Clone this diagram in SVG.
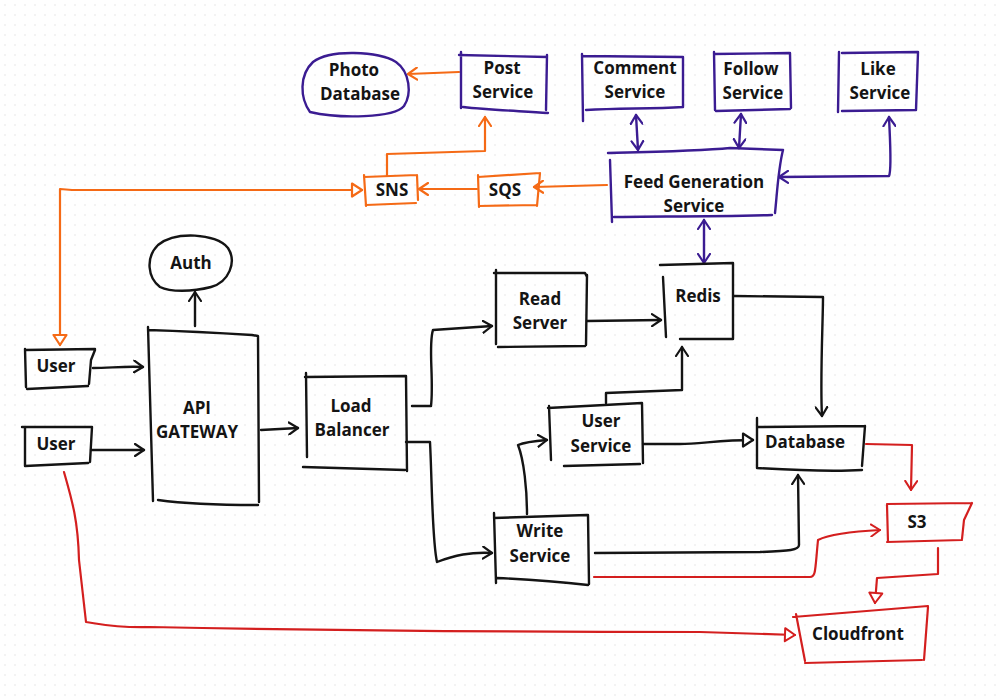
<svg xmlns="http://www.w3.org/2000/svg" width="1000" height="698" viewBox="0 0 1000 698">
<style>
.t{font-family:"Open Sans","Liberation Sans",sans-serif;font-weight:700;font-size:17px;fill:#141414;text-anchor:middle}
.b{fill:none;stroke:#141414;stroke-width:2.4;stroke-linecap:round;stroke-linejoin:round}
.p{fill:none;stroke:#3b1c92;stroke-width:2.4;stroke-linecap:round;stroke-linejoin:round}
.o{fill:none;stroke:#f56a16;stroke-width:2.2;stroke-linecap:round;stroke-linejoin:round}
.r{fill:none;stroke:#d41f1f;stroke-width:2.2;stroke-linecap:round;stroke-linejoin:round}
</style>
<defs>
<pattern id="grid" width="10" height="10" patternUnits="userSpaceOnUse"><circle cx="5" cy="5" r="0.8" fill="#e3e3e3"/></pattern>
<marker id="cb" viewBox="0 0 12 14" refX="10" refY="7" markerWidth="12" markerHeight="14" markerUnits="userSpaceOnUse" orient="auto-start-reverse"><path d="M1,1 L10,7 L1,13" fill="none" stroke="#141414" stroke-width="2.2" stroke-linecap="round" stroke-linejoin="round"/></marker>
<marker id="tb" viewBox="0 0 14 16" refX="12" refY="8" markerWidth="14" markerHeight="16" markerUnits="userSpaceOnUse" orient="auto-start-reverse"><path d="M2,1.5 L12,8 L2,14.5 Z" fill="#fff" stroke="#141414" stroke-width="2.2" stroke-linejoin="round"/></marker>
<marker id="cp" viewBox="0 0 12 14" refX="10" refY="7" markerWidth="12" markerHeight="14" markerUnits="userSpaceOnUse" orient="auto-start-reverse"><path d="M1,1 L10,7 L1,13" fill="none" stroke="#3b1c92" stroke-width="2.2" stroke-linecap="round" stroke-linejoin="round"/></marker>
<marker id="co" viewBox="0 0 12 14" refX="10" refY="7" markerWidth="12" markerHeight="14" markerUnits="userSpaceOnUse" orient="auto-start-reverse"><path d="M1,1 L10,7 L1,13" fill="none" stroke="#f56a16" stroke-width="2.2" stroke-linecap="round" stroke-linejoin="round"/></marker>
<marker id="to" viewBox="0 0 14 16" refX="12" refY="8" markerWidth="14" markerHeight="16" markerUnits="userSpaceOnUse" orient="auto-start-reverse"><path d="M2,1.5 L12,8 L2,14.5 Z" fill="#fff" stroke="#f56a16" stroke-width="2.2" stroke-linejoin="round"/></marker>
<marker id="cr" viewBox="0 0 12 14" refX="10" refY="7" markerWidth="12" markerHeight="14" markerUnits="userSpaceOnUse" orient="auto-start-reverse"><path d="M1,1 L10,7 L1,13" fill="none" stroke="#d41f1f" stroke-width="2" stroke-linecap="round" stroke-linejoin="round"/></marker>
<marker id="tr" viewBox="0 0 14 16" refX="12" refY="8" markerWidth="14" markerHeight="16" markerUnits="userSpaceOnUse" orient="auto-start-reverse"><path d="M2,1.5 L12,8 L2,14.5 Z" fill="#fff" stroke="#d41f1f" stroke-width="2" stroke-linejoin="round"/></marker>
</defs>
<rect width="1000" height="698" fill="#fff"/>
<rect width="1000" height="698" fill="url(#grid)"/>

<g id="connectors">
<path class="p" d="M636,115 L638,150" marker-start="url(#cp)" marker-end="url(#cp)"/>
<path class="p" d="M741,114 L739,148" marker-start="url(#cp)" marker-end="url(#cp)"/>
<path class="p" d="M889,117 C890,140 892,170 889,176 L779,177" marker-start="url(#cp)" marker-end="url(#cp)"/>
<path class="p" d="M704,220 L704,263" marker-start="url(#cp)" marker-end="url(#cp)"/>
<path class="o" d="M607,185 L534,187" marker-end="url(#co)"/>
<path class="o" d="M477,189 L419,189" marker-end="url(#co)"/>
<path class="o" d="M387,176 L387,154 L485,151 L485,117" marker-end="url(#co)"/>
<path class="o" d="M459,72 L408,74" marker-end="url(#co)"/>
<path class="o" d="M362,190 L72,190 L60,189 L60,345" marker-start="url(#to)" marker-end="url(#to)"/>
<path class="b" d="M93,368 C110,368 125,366 143,367" marker-end="url(#cb)"/>
<path class="b" d="M91,450 L144,450" marker-end="url(#cb)"/>
<path class="b" d="M195,326 L195,292" marker-end="url(#cb)"/>
<path class="b" d="M261,430 L298,428" marker-end="url(#cb)"/>
<path class="b" d="M412,406 L431,406 C434,380 428,345 433,330 C460,328 480,327 492,326" marker-end="url(#cb)"/>
<path class="b" d="M406,442 L430,442 C432,480 432,540 437,562 C455,555 470,552 492,553" marker-end="url(#cb)"/>
<path class="b" d="M587,321 L661,320" marker-end="url(#cb)"/>
<path class="b" d="M527,514 C527,490 524,460 518,445 C525,442 535,441 547,440" marker-end="url(#cb)"/>
<path class="b" d="M606,403 L606,393 L682,390 L682,347" marker-end="url(#cb)"/>
<path class="b" d="M643,444 L680,444 C700,444 720,440 753,440" marker-end="url(#tb)"/>
<path class="b" d="M734,296 L823,297 C823,320 820,380 822,416" marker-end="url(#cb)"/>
<path class="b" d="M595,553 L760,552 C790,551 799,550 799,545 L798,475" marker-end="url(#cb)"/>
<path class="r" d="M866,444 L912,445 L911,490" marker-end="url(#cr)"/>
<path class="r" d="M594,577 L810,577 C816,577 815,570 818,540 C830,534 860,531 880,530" marker-end="url(#cr)"/>
<path class="r" d="M938,548 L938,574 L877,578 L875,603" marker-end="url(#tr)"/>
<path class="r" d="M64,472 C72,500 78,520 79,560 L86,622 C100,624 115,628 150,627 C300,630 500,632 700,632 L795,635" marker-end="url(#tr)"/>
</g>

<g id="photo-database">
<path class="p" d="M310,112 C300,98 299,75 313,62 C330,49 378,51 396,62 C410,72 412,94 404,106 C394,118 340,119 310,112 Z"/>
<text class="t" x="354" y="76">Photo</text><text class="t" x="360" y="100">Database</text>
</g>
<g id="post-service">
<path class="p" d="M461,52 L461,108 M459,55 L547,57 M547,55 L546,110 M463,107 C490,110 520,111 548,113"/>
<text class="t" x="502" y="74">Post</text><text class="t" x="503" y="98">Service</text>
</g>
<g id="comment-service">
<path class="p" d="M582,56 L683,57 L683,107 M582,54 L583,121 M586,110 C620,108 650,109 683,107"/>
<text class="t" x="635" y="74">Comment</text><text class="t" x="635" y="98">Service</text>
</g>
<g id="follow-service">
<path class="p" d="M714,52 L715,110 M714,54 L789,53 M790,53 L791,108 M716,111 L790,109"/>
<text class="t" x="751" y="75">Follow</text><text class="t" x="753" y="99">Service</text>
</g>
<g id="like-service">
<path class="p" d="M839,52 L838,112 M842,53 L918,52 L916,110 M842,111 L916,110"/>
<text class="t" x="878" y="75">Like</text><text class="t" x="880" y="99">Service</text>
</g>
<g id="feed-generation-service">
<path class="p" d="M608,153 C650,152 700,151 730,148 L783,150 M783,150 C778,170 777,195 775,213 M614,217 C650,216 700,217 772,215 M610,160 L612,222"/>
<text class="t" x="694" y="188">Feed Generation</text><text class="t" x="694" y="212">Service</text>
</g>
<g id="sqs">
<path class="o" d="M478,175 L479,207 M478,177 L540,173 M540,173 L537,206 M479,206 L537,205"/>
<text class="t" x="505" y="196">SQS</text>
</g>
<g id="sns">
<path class="o" d="M364,175 L366,206 M364,177 L417,175 M417,175 L418,200 M366,205 L416,203"/>
<text class="t" x="392" y="196">SNS</text>
</g>
<g id="auth">
<path class="b" d="M160,287 C148,278 145,258 158,245 C175,231 216,233 228,248 C237,262 229,282 211,287 C192,292 170,292 160,287 Z"/>
<text class="t" x="191" y="269">Auth</text>
</g>
<g id="api-gateway">
<path class="b" d="M148,327 L153,501 M148,330 C180,331 220,333 252,335 L258,336 L259,502 M158,500 C180,503 220,505 258,505"/>
<text class="t" x="197" y="414">API</text><text class="t" x="197" y="438">GATEWAY</text>
</g>
<g id="user-1">
<path class="b" d="M25,349 L26,387 M25,350 L95,349 M95,350 L91,360 L89,384 M27,389 L88,386"/>
<text class="t" x="56" y="372">User</text>
</g>
<g id="user-2">
<path class="b" d="M22,427 L92,427 M25,428 L25,466 M92,427 L90,462 M25,466 L88,463"/>
<text class="t" x="56" y="450">User</text>
</g>
<g id="load-balancer">
<path class="b" d="M306,373 L307,457 M305,377 L406,376 M406,376 L407,471 M303,467 L405,470"/>
<text class="t" x="351" y="412">Load</text><text class="t" x="352" y="436">Balancer</text>
</g>
<g id="read-server">
<path class="b" d="M496,270 L496,344 M494,273 L585,273 L587,277 M587,275 L586,345 M498,347 L585,346"/>
<text class="t" x="540" y="305">Read</text><text class="t" x="540" y="329">Server</text>
</g>
<g id="redis">
<path class="b" d="M660,265 L733,263 M663,277 L666,337 M733,263 L733,339 M680,339 L733,339"/>
<text class="t" x="698" y="302">Redis</text>
</g>
<g id="user-service">
<path class="b" d="M548,408 L642,403 M549,406 L551,460 M642,403 L643,463 M564,466 L640,464"/>
<text class="t" x="601" y="427">User</text><text class="t" x="601" y="452">Service</text>
</g>
<g id="write-service">
<path class="b" d="M494,518 L587,515 M494,513 L496,583 M588,515 L589,584 M497,578 C540,580 570,583 588,585"/>
<text class="t" x="540" y="537">Write</text><text class="t" x="540" y="562">Service</text>
</g>
<g id="database">
<path class="b" d="M757,418 L757,468 M757,427 L865,426 M865,426 L862,466 M757,468 C790,470 830,472 862,470"/>
<text class="t" x="805" y="448">Database</text>
</g>
<g id="s3">
<path class="r" d="M887,504 L972,503 M887,505 L888,542 M972,503 L964,520 L962,539 M887,542 L962,540"/>
<text class="t" x="917" y="528">S3</text>
</g>
<g id="cloudfront">
<path class="r" d="M793,617 C830,614 870,611 928,606 M796,614 L805,661 M928,607 L924,660 M805,663 L922,660"/>
<text class="t" x="858" y="640">Cloudfront</text>
</g>
</svg>
